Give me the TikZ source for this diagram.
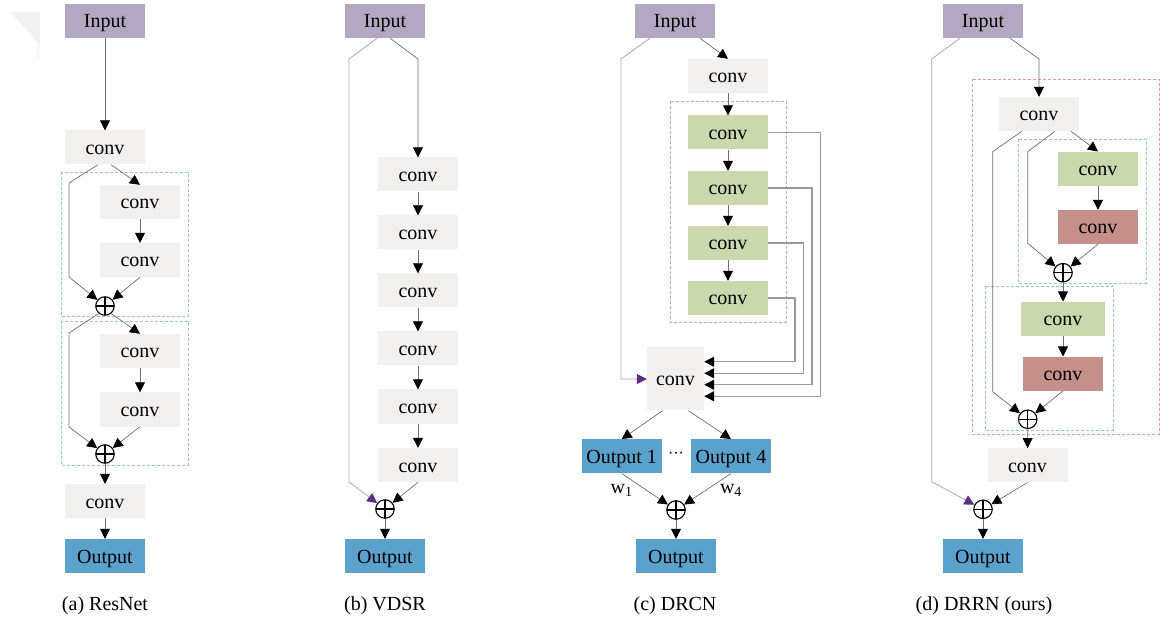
\documentclass[tikz,border=0pt]{standalone}
\usepackage{fontspec}
\setmainfont{Liberation Serif}
\usetikzlibrary{arrows.meta,calc}

\definecolor{inputc}{HTML}{B4A7C1}
\definecolor{convc}{HTML}{F1F0EF}
\definecolor{greenc}{HTML}{C9D8AD}
\definecolor{redc}{HTML}{C49089}
\definecolor{outc}{HTML}{5AA2CC}
\definecolor{linec}{HTML}{707070}
\definecolor{skipc}{HTML}{B2A1CB}
\definecolor{skiptip}{HTML}{5B2F86}
\definecolor{fbc}{HTML}{9A9A9A}
\definecolor{dashgreen}{HTML}{8FD3A0}
\definecolor{dashblue}{HTML}{9DB5D9}
\definecolor{dashred}{HTML}{E99A9A}
\definecolor{cornerc}{HTML}{F2F2F2}

\tikzset{
  blk/.style={minimum width=80pt,minimum height=34pt,inner sep=0pt,
    text height=16pt,text depth=2pt,
    font=\fontsize{20}{24}\selectfont},
  inbox/.style={blk,fill=inputc},
  convbox/.style={blk,fill=convc},
  gbox/.style={blk,fill=greenc},
  rbox/.style={blk,fill=redc},
  obox/.style={blk,fill=outc},
  addop/.style={circle,draw=black,line width=1.1pt,minimum size=18.5pt,inner sep=0pt,
    path picture={\draw[line width=1.1pt]
      (path picture bounding box.north)--(path picture bounding box.south)
      (path picture bounding box.west)--(path picture bounding box.east);}},
  flow/.style={draw=linec,line width=0.7pt,
    -{Triangle[length=10pt,width=10pt,color=black]}},
  skipline/.style={draw=skipc,line width=0.8pt,
    -{Triangle[length=10pt,width=10pt,color=skiptip]}},
  fbline/.style={draw=fbc,line width=1.3pt,
    -{Triangle[length=10pt,width=10pt,color=black]}},
  grpgreen/.style={draw=dashgreen,line width=0.7pt,dash pattern=on 3pt off 2pt},
  grpblue/.style={draw=dashblue,line width=0.7pt,dash pattern=on 3pt off 2pt},
  grpred/.style={draw=dashred,line width=0.7pt,dash pattern=on 3pt off 2pt},
  captext/.style={font=\fontsize{20}{24}\selectfont},
  lbl/.style={font=\fontsize{20}{24}\selectfont,inner sep=0pt},
}

\begin{document}
\begin{tikzpicture}[x=1pt,y=-1pt]
\useasboundingbox (0,0) rectangle (1160,620);
\fill[white] (0,0) rectangle (1160,620);
% faint corner mark
\fill[cornerc] (10,12) -- (40,12) -- (40,45) -- cycle;
\fill[cornerc!60!white] (36,45) rectangle (40,57);

% ---------------- (a) ResNet ----------------
\draw[grpgreen] (61,172) rectangle (188,316);
\draw[grpgreen] (61,321) rectangle (188,465);
\node[inbox]   (inA)    at (105,21)    {Input};
\node[convbox] (cA1)    at (105,147.5) {conv};
\node[convbox] (cA2)    at (140,202)   {conv};
\node[convbox] (cA3)    at (140,260)   {conv};
\node[addop]   (pA1)    at (105,306)   {};
\node[convbox] (cA4)    at (140,351)   {conv};
\node[convbox] (cA5)    at (140,409.5) {conv};
\node[addop]   (pA2)    at (105,454)   {};
\node[convbox] (cA6)    at (105,501)   {conv};
\node[obox]    (outA)   at (105,556)   {Output};
\node[captext] (capA)   at (105,606)   {(a) ResNet};

\draw[flow] (inA) -- (cA1);
\draw[flow] ([xshift=6pt]cA1.south) -- (cA2.north);
\draw[flow] ([xshift=-7pt]cA1.south) -- (69,183) -- (69,277) -- (pA1);
\draw[flow] (cA2) -- (cA3);
\draw[flow] (cA3.south) -- (pA1);
\draw[flow] (pA1.-50) -- (cA4.north);
\draw[flow] (pA1.-130) -- (69,333) -- (69,427) -- (pA2);
\draw[flow] (cA4) -- (cA5);
\draw[flow] (cA5.south) -- (pA2);
\draw[flow] (pA2) -- (cA6);
\draw[flow] (cA6) -- (outA);

% ---------------- (b) VDSR ----------------
\node[inbox]   (inB)  at (385,21)    {Input};
\node[convbox] (cB1)  at (418,174.5) {conv};
\node[convbox] (cB2)  at (418,232.5) {conv};
\node[convbox] (cB3)  at (418,290.5) {conv};
\node[convbox] (cB4)  at (418,348.5) {conv};
\node[convbox] (cB5)  at (418,406.5) {conv};
\node[convbox] (cB6)  at (418,465)   {conv};
\node[addop]   (pB)   at (385,509)   {};
\node[obox]    (outB) at (385,556)   {Output};
\node[captext] (capB) at (385,606)   {(b) VDSR};

\draw[skipline] ([xshift=-8pt]inB.south) -- (349,59) -- (349,482) -- (pB);
\draw[flow] ([xshift=5pt]inB.south) -- (418,59) -- (cB1.north);
\draw[flow] (cB1) -- (cB2);
\draw[flow] (cB2) -- (cB3);
\draw[flow] (cB3) -- (cB4);
\draw[flow] (cB4) -- (cB5);
\draw[flow] (cB5) -- (cB6);
\draw[flow] (cB6.south) -- (pB);
\draw[flow] (pB) -- (outB);

% ---------------- (c) DRCN ----------------
\draw[grpblue] (670,101) rectangle (786,322);
\node[inbox]   (inC)  at (675,21)  {Input};
\node[convbox] (cC0)  at (728,76)  {conv};
\node[gbox]    (gC1)  at (728,132.5) {conv};
\node[gbox]    (gC2)  at (728,188) {conv};
\node[gbox]    (gC3)  at (728,243) {conv};
\node[gbox]    (gC4)  at (728,298) {conv};
\node[convbox,minimum width=57pt,minimum height=63pt] (bigC) at (675.5,379) {conv};
\node[obox]    (oC1)  at (621.7,456.3) {Output 1};
\node[obox]    (oC4)  at (731,456.3)   {Output 4};
\node[font=\fontsize{16}{18}\selectfont,inner sep=0pt] (dots) at (676,455.5) {···};
\node[lbl]     (w1)   at (621.7,490) {w\textsubscript{1}};
\node[lbl]     (w4)   at (731,490)   {w\textsubscript{4}};
\node[addop]   (pC)   at (676,510) {};
\node[obox]    (outC) at (676,556) {Output};
\node[captext] (capC) at (675,606) {(c) DRCN};

\draw[flow] ([xshift=25pt]inC.south) -- (cC0.north);
\draw[skipline] ([xshift=-25pt]inC.south) -- (621,59) -- (621,379) -- (bigC.west);
\draw[flow] (cC0) -- (gC1);
\draw[flow] (gC1) -- (gC2);
\draw[flow] (gC2) -- (gC3);
\draw[flow] (gC3) -- (gC4);
\draw[fbline] (gC4.east) -- (795,298)   -- (795,361.75)   -- ($(bigC.east)+(0,-17.25)$);
\draw[fbline] (gC3.east) -- (803.5,243) -- (803.5,373.25) -- ($(bigC.east)+(0,-5.75)$);
\draw[fbline] (gC2.east) -- (812,188)   -- (812,384.75)   -- ($(bigC.east)+(0,5.75)$);
\draw[fbline] (gC1.east) -- (820.5,132.5) -- (820.5,396.25) -- ($(bigC.east)+(0,17.25)$);
\draw[flow] ([xshift=-13pt]bigC.south) -- (oC1.north);
\draw[flow] ([xshift=13pt]bigC.south) -- (oC4.north);
\draw[flow] (oC1.south) -- (pC);
\draw[flow] (oC4.south) -- (pC);
\draw[flow] (pC) -- (outC);

% ---------------- (d) DRRN ----------------
\draw[grpred]   (972,79)   rectangle (1159,434);
\draw[grpgreen] (1018,139) rectangle (1146,283);
\draw[grpgreen] (985,286)  rectangle (1113,430);
\node[inbox]   (inD)  at (983,21)      {Input};
\node[convbox] (cD0)  at (1039,114)    {conv};
\node[gbox]    (gD1)  at (1098,168.7)  {conv};
\node[rbox]    (rD1)  at (1098,227)    {conv};
\node[addop]   (pD1)  at (1063,272.7)  {};
\node[gbox,minimum width=84pt] (gD2) at (1063,318.7) {conv};
\node[rbox]    (rD2)  at (1063,373.7)  {conv};
\node[addop]   (pD2)  at (1027.7,419.3) {};
\node[convbox] (cD3)  at (1027.5,465.3) {conv};
\node[addop]   (pD3)  at (983,509.3)   {};
\node[obox]    (outD) at (983,556)     {Output};
\node[captext] (capD) at (984,606)     {(d) DRRN (ours)};

\draw[skipline] ([xshift=-23pt]inD.south) -- (931.7,59) -- (931.7,481.7) -- (pD3);
\draw[flow] ([xshift=27pt]inD.south) -- (1039,59) -- (cD0.north);
\draw[flow] ([xshift=-17pt]cD0.south) -- (992.7,151.7) -- (992.7,391.7) -- (pD2);
\draw[flow] ([xshift=16pt]cD0.south) -- (1027.7,151.7) -- (1027.7,243.3) -- (pD1);
\draw[flow] ([xshift=32pt]cD0.south) -- (gD1.north);
\draw[flow] (gD1) -- (rD1);
\draw[flow] (rD1.south) -- (pD1);
\draw[flow] (pD1) -- (gD2);
\draw[flow] (gD2) -- (rD2);
\draw[flow] (rD2.south) -- (pD2);
\draw[flow] (pD2) -- (cD3);
\draw[flow] (cD3.south) -- (pD3);
\draw[flow] (pD3) -- (outD);
\end{tikzpicture}
\end{document}
